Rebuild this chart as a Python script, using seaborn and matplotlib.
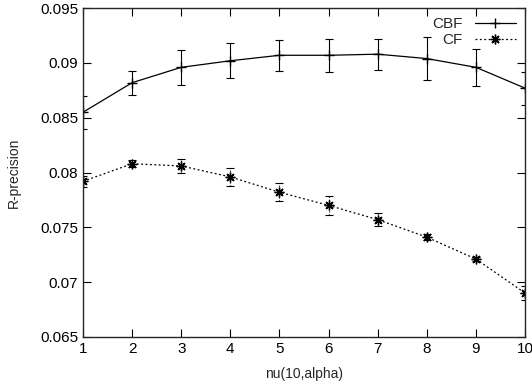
import numpy as np
import pandas as pd
import matplotlib
matplotlib.use('Agg')
import matplotlib.pyplot as plt
import seaborn as sns

nu = [1, 2, 3, 4, 5, 6, 7, 8, 9, 10]
cbf = [0.0855, 0.0882, 0.0896, 0.0902, 0.0907, 0.0907, 0.0908, 0.0904, 0.0896, 0.0877]
cbf_err = [0.0015, 0.0011, 0.0016, 0.0016, 0.0014, 0.0015, 0.0014, 0.0020, 0.0017, 0.0015]
cf = [0.0792, 0.0808, 0.0806, 0.0796, 0.0782, 0.0770, 0.0757, 0.0741, 0.0721, 0.0690]
cf_err = [0.0005, 0.0003, 0.0006, 0.0008, 0.0008, 0.0009, 0.0006, 0.0003, 0.0002, 0.0006]

sns.set_style('ticks')
plt.rcParams['font.family'] = ['Liberation Sans', 'DejaVu Sans']

df = pd.DataFrame({'nu': nu * 2, 'rp': cbf + cf, 'method': ['CBF'] * 10 + ['CF'] * 10})

fig = plt.figure(figsize=(5.32, 3.89), dpi=100)
ax = fig.add_axes([0.156, 0.134, 0.831, 0.845])

ax.errorbar(nu, cbf, yerr=cbf_err, fmt='none', ecolor='black', elinewidth=0.8, capsize=3, capthick=0.8)
eb = ax.errorbar(nu, cf, yerr=cf_err, fmt='none', ecolor='black', elinewidth=0.8, capsize=3, capthick=0.8)
for c in eb[2]:
    c.set_linestyle(':')

sns.lineplot(data=df, x='nu', y='rp', hue='method', style='method',
             palette={'CBF': 'black', 'CF': 'black'},
             dashes={'CBF': '', 'CF': (1.5, 2)},
             markers={'CBF': '+', 'CF': (8, 2, 0)},
             markersize=7, markeredgewidth=1.0, markeredgecolor='black',
             linewidth=0.9, ax=ax)

ax.set_xlim(1, 10)
ax.set_ylim(0.065, 0.095)
ax.set_xticks(nu)
ax.set_yticks([0.065, 0.07, 0.075, 0.08, 0.085, 0.09, 0.095])
ax.set_yticklabels(['0.065', '0.07', '0.075', '0.08', '0.085', '0.09', '0.095'])
ax.tick_params(direction='in', top=True, right=True, length=6, width=0.8, labelsize=11, colors='black')
for s in ax.spines.values():
    s.set_visible(True)
    s.set_linewidth(1.0)
ax.set_xlabel('nu(10,alpha)', fontsize=10, labelpad=8)
ax.set_ylabel('R-precision', fontsize=10, labelpad=14)

leg = ax.legend(title=None, loc='upper right', markerfirst=False, frameon=False,
                fontsize=11, handlelength=2.7, borderaxespad=0.2, labelspacing=0.1)
for h in leg.legend_handles:
    h.set_markeredgecolor('black')

fig.savefig('out.png', dpi=100)
